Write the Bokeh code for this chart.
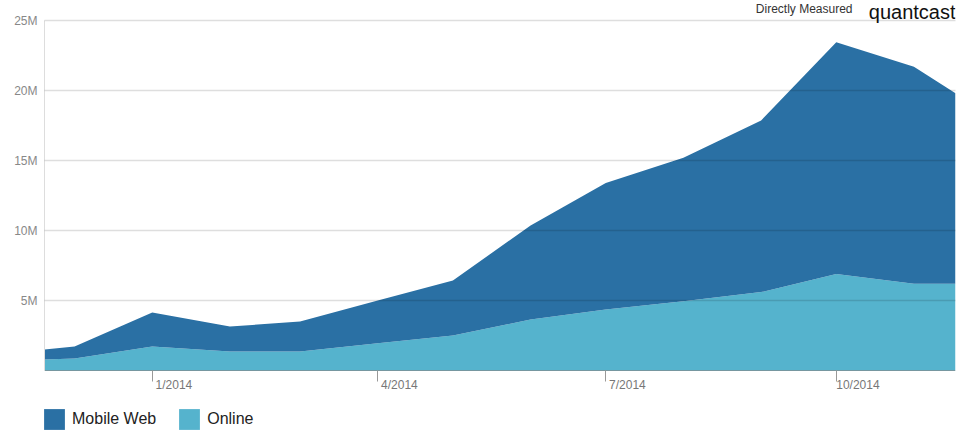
from datetime import datetime
from bokeh.plotting import figure
from bokeh.models import (ColumnDataSource, Range1d, FixedTicker, DatetimeTickFormatter,
                          PrintfTickFormatter, Legend, LegendItem, Label)
from bokeh.embed import file_html
from bokeh.resources import INLINE

# ---- data (millions of visitors) ----
dates = [datetime(2013, 11, 19), datetime(2013, 12, 1), datetime(2014, 1, 1), datetime(2014, 2, 1),
         datetime(2014, 3, 1), datetime(2014, 4, 1), datetime(2014, 5, 1), datetime(2014, 6, 1),
         datetime(2014, 7, 1), datetime(2014, 8, 1), datetime(2014, 9, 1), datetime(2014, 10, 1),
         datetime(2014, 11, 1), datetime(2014, 11, 17, 14)]
online = [0.79, 0.86, 1.71, 1.36, 1.36, 1.95, 2.5, 3.64, 4.36, 4.95, 5.6, 6.9, 6.2, 6.2]
mobile_web = [0.71, 0.85, 2.43, 1.78, 2.14, 3.05, 3.93, 6.72, 9.04, 10.25, 12.26, 16.55, 15.5, 13.6]
series_names = ["Mobile Web", "Online"]
x_ticks = [datetime(2014, 1, 1), datetime(2014, 4, 1), datetime(2014, 7, 1), datetime(2014, 10, 1)]
y_ticks = [5, 10, 15, 20, 25]

# the frame covers the whole canvas (14 px per million); header and legend live inside it
PX_PER_M = 14.0
y_top = 25 + 20 / PX_PER_M
y_bottom = -65 / PX_PER_M

MOBILE_C = "#2a70a4"
ONLINE_C = "#55b3cd"
FONT = "Liberation Sans"

source = ColumnDataSource(dict(date=dates, online=online, mobile=mobile_web))

p = figure(width=960, height=435, output_backend="svg", toolbar_location=None,
           x_axis_type="datetime",
           x_range=Range1d(dates[0], dates[-1]), y_range=Range1d(y_bottom, y_top),
           min_border_left=44, min_border_right=5, min_border_top=0, min_border_bottom=0)
p.outline_line_color = None

rs = p.varea_stack(["online", "mobile"], x="date", source=source, color=[ONLINE_C, MOBILE_C])

# grid drawn over the areas, semi-transparent
p.xgrid.grid_line_color = None
p.ygrid.ticker = FixedTicker(ticks=y_ticks)
p.ygrid.grid_line_color = "black"
p.ygrid.grid_line_alpha = 0.13
p.ygrid.grid_line_width = 1.5
p.ygrid.level = "overlay"

# x axis, pinned at y = 0; labels sit to the right of their tick
xa = p.xaxis[0]
xa.fixed_location = 0
xa.ticker = FixedTicker(ticks=[d.timestamp() * 1000 for d in x_ticks])
fmt = "\u00a0" * 13 + "%-m/%Y"
xa.formatter = DatetimeTickFormatter(days=fmt, months=fmt, years=fmt, hours=fmt)
xa.major_label_text_font = FONT
xa.major_label_text_font_size = "12px"
xa.major_label_text_color = "#777777"
xa.major_label_standoff = -4
xa.major_tick_out = 11
xa.major_tick_in = 0
xa.minor_tick_out = 0
xa.minor_tick_in = 0
xa.major_tick_line_color = "#999999"
xa.axis_line_color = "black"
xa.axis_line_alpha = 0.3

# y axis
ya = p.yaxis[0]
ya.ticker = FixedTicker(ticks=y_ticks)
ya.formatter = PrintfTickFormatter(format="%dM")
ya.bounds = (0, 25)
ya.major_label_text_font = FONT
ya.major_label_text_font_size = "12px"
ya.major_label_text_color = "#888888"
ya.major_tick_out = 0
ya.major_tick_in = 0
ya.minor_tick_out = 0
ya.minor_tick_in = 0
ya.major_label_standoff = 7
ya.axis_line_color = "#dddddd"

# legend (under the x axis)
legend = Legend(items=[LegendItem(label=series_names[0], renderers=[rs[1]]),
                       LegendItem(label=series_names[1], renderers=[rs[0]])],
                orientation="horizontal", location=(-3, 3),
                padding=0, margin=0, spacing=20, label_standoff=5,
                glyph_width=26, glyph_height=26, label_height=26,
                label_text_font=FONT, label_text_font_size="16px", label_text_color="#222222",
                border_line_color=None, background_fill_alpha=0)
p.add_layout(legend)

# header texts
p.add_layout(Label(x=808, y=427, x_units="screen", y_units="screen", text="Directly Measured",
                   text_align="right", text_baseline="middle", text_font=FONT,
                   text_font_size="12px", text_color="#333333"))
p.add_layout(Label(x=911, y=424, x_units="screen", y_units="screen", text="quantcast",
                   text_align="right", text_baseline="middle", text_font=FONT,
                   text_font_size="20px", text_color="#111111"))

open("out.html", "w").write(file_html(p, INLINE))
